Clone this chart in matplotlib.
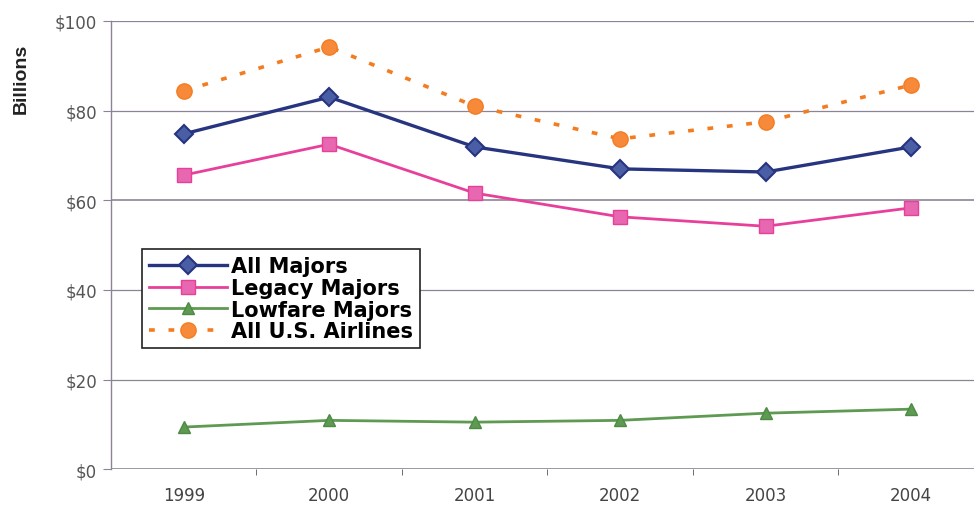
import numpy as np
import matplotlib.pyplot as plt

years = ["1999", "2000", "2001", "2002", "2003", "2004"]
all_majors = [74.8, 83.0, 71.9, 67.0, 66.3, 71.9]
legacy_majors = [65.6, 72.5, 61.6, 56.3, 54.2, 58.3]
lowfare_majors = [9.4, 10.9, 10.5, 10.9, 12.5, 13.4]
all_us = [84.4, 94.2, 81.0, 73.7, 77.5, 85.7]
yticks = [0, 20, 40, 60, 80, 100]
ylabels = ["$0", "$20", "$40", "$60", "$80", "$100"]

fig = plt.figure(figsize=(9.74, 5.10), dpi=100)
ax = fig.add_axes([0.114, 0.078, 0.896, 0.879])

x = np.arange(len(years))

ax.plot(x, all_majors, color="#27347f", lw=2.4, marker="D", ms=9,
        mfc="#4a5ea6", mec="#27347f", mew=1.5, label="All Majors", zorder=4)
ax.plot(x, legacy_majors, color="#e8409a", lw=2.0, marker="s", ms=10,
        mfc="#e767b0", mec="#e8409a", label="Legacy Majors", zorder=4)
ax.plot(x, lowfare_majors, color="#5e9a52", lw=2.0, marker="^", ms=9,
        mfc="#5e9a52", mec="#4d8a44", label="Lowfare Majors", zorder=4)
ax.plot(x, all_us, color="#f47c20", lw=2.6, ls=(0, (1.6, 3.8)), marker="o",
        ms=11, mfc="#f7893a", mec="#f47c20", label="All U.S. Airlines", zorder=4)

ax.set_xlim(-0.5, 5.5)
ax.set_ylim(0, 100)
ax.set_yticks(yticks)
ax.set_yticklabels(ylabels)
ax.set_xticks(x)
ax.set_xticklabels(years)
ax.set_xticks(np.arange(0.5, 5.5, 1.0), minor=True)

for v in yticks:
    ax.axhline(v, color="#8c8496", lw=1.2 if v in (0, 60) else 0.9, zorder=1)

for s in ["top", "right", "bottom"]:
    ax.spines[s].set_visible(False)
ax.spines["left"].set_color("#8c8496")
ax.spines["left"].set_linewidth(1.0)

ax.tick_params(axis="y", length=6, color="#8c8496", labelsize=12,
               labelcolor="#555555", pad=4)
ax.tick_params(axis="x", which="major", length=0, labelsize=12,
               labelcolor="#444444", pad=12)
ax.tick_params(axis="x", which="minor", length=4, color="#555555",
               direction="out")
for lab in ax.get_yticklabels() + ax.get_xticklabels():
    lab.set_family("DejaVu Sans")

fig.text(0.022, 0.845, "Billions", rotation=90, ha="center", va="center",
         fontsize=14, color="#222222", family="Liberation Sans",
         weight="bold")

leg = ax.legend(loc="upper left", bbox_to_anchor=(0.146, 0.51),
                bbox_transform=fig.transFigure, fancybox=False,
                edgecolor="#222222", framealpha=1, handlelength=3.7,
                handletextpad=0.2, labelspacing=0.08, borderpad=0.35,
                borderaxespad=0,
                prop={"family": "DejaVu Sans", "weight": "bold",
                      "size": 15})
leg.get_frame().set_linewidth(1.2)

fig.savefig("out.png", dpi=100)
